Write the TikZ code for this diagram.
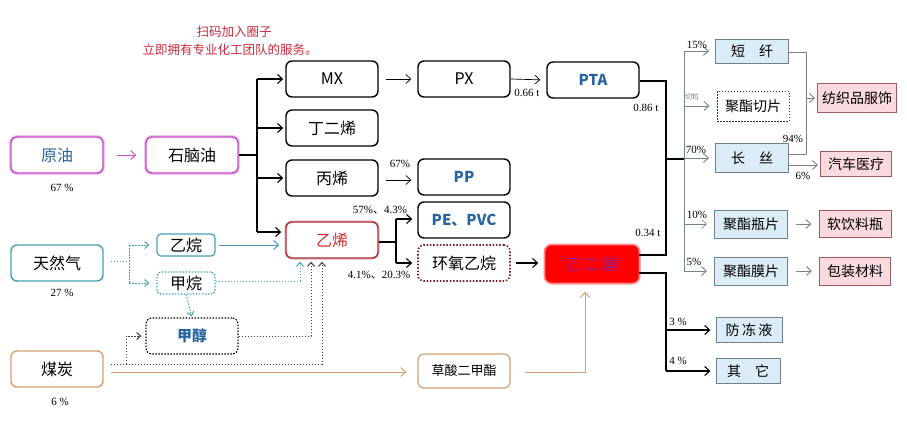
\documentclass[tikz,border=0pt]{standalone}
\usepackage{fontspec}
\setmainfont{Liberation Serif}
\newfontfamily\cjk{Noto Sans CJK SC}
\usetikzlibrary{arrows.meta}
\definecolor{mag}{RGB}{200,70,200}
\definecolor{teal2}{RGB}{70,160,180}
\definecolor{tan2}{RGB}{215,160,110}
\definecolor{redb}{RGB}{170,40,50}
\definecolor{redt}{RGB}{205,45,45}
\definecolor{blt}{RGB}{40,100,160}
\definecolor{lblue}{RGB}{218,236,246}
\definecolor{gbord}{RGB}{110,130,140}
\definecolor{pinkf}{RGB}{250,218,222}
\definecolor{pinkb}{RGB}{160,90,100}
\definecolor{gline}{RGB}{120,130,135}
\definecolor{hand}{RGB}{200,45,65}
\definecolor{egtxt}{RGB}{120,40,190}
\begin{document}
\begin{tikzpicture}[x=1pt,y=-1pt,
  box/.style={draw, rounded corners=6pt, line width=1.4pt, minimum width=92pt, minimum height=36pt, inner sep=0pt, fill=white, font=\cjk\fontsize{16}{16}\selectfont},
  sbox/.style={box, minimum width=58pt, minimum height=22pt, rounded corners=4pt, line width=1.2pt},
  rbox/.style={draw=gbord, fill=lblue, line width=1pt, minimum width=73pt, minimum height=27pt, inner sep=0pt, font=\cjk\fontsize{14}{14}\selectfont},
  pbox/.style={draw=pinkb, fill=pinkf, line width=1pt, minimum width=72pt, minimum height=27pt, inner sep=0pt, font=\cjk\fontsize{14}{14}\selectfont},
  ln/.style={line width=1.1pt},
  arr/.style={ln, -{Straight Barb[length=5pt,width=9pt]}},
  tarr/.style={line width=0.7pt, -{Straight Barb[length=5pt,width=9pt]}},
  gl/.style={draw=gline, line width=0.9pt},
  garr/.style={gl, -{Straight Barb[length=5pt,width=9pt]}},
  dots/.style={line width=1pt, dash pattern=on 1.5pt off 1.5pt},
  darr/.style={dots, -{Straight Barb[length=4pt,width=7pt]}},
  pct/.style={font=\fontsize{11}{11}\selectfont, inner sep=0pt}
]
\useasboundingbox[fill=white] (0,0) rectangle (907,421);

% handwritten note
\node[text=hand, font=\cjk\fontsize{12.5}{12.5}\selectfont, inner sep=0pt] (n1) at (234,32) {扫码加入圈子};
\node[text=hand, font=\cjk\fontsize{12.5}{12.5}\selectfont, inner sep=0pt] (n2) at (230,50) {立即拥有专业化工团队的服务。};

% sources
\node[box, draw=mag, preaction={draw=mag!30, line width=4pt}, text=blt] (yy) at (57,155) {原油};
\node[pct] (lyy) at (62,188) {67 \%};
\node[box, draw=mag, preaction={draw=mag!30, line width=4pt}] (sny) at (192,155) {石脑油};
\node[box, draw=teal2] (trq) at (57,263) {天然气};
\node[pct] (ltrq) at (62,293) {27 \%};
\node[box, draw=tan2] (mt) at (57,369) {煤炭};
\node[pct] (lmt) at (60,402) {6 \%};

% middle column
\node[box] (mx) at (332,79) {MX};
\node[box] (bed) at (332,128) {丁二烯};
\node[box] (bx) at (332,178) {丙烯};
\node[box, draw=redb, preaction={draw=redb!25, line width=3.5pt}, text=redt] (yx) at (332,240) {乙烯};
\node[box] (px) at (464,79) {PX};
\node[box, text=blt, font=\cjk\bfseries\fontsize{15}{15}\selectfont] (pp) at (464,177) {PP};
\node[box, text=blt, font=\cjk\bfseries\fontsize{15}{15}\selectfont] (pe) at (464,220) {PE、PVC};
\node[box, draw=redb!70!black, dash pattern=on 1.5pt off 1.8pt, line width=1.6pt] (hy) at (464,263) {环氧乙烷};
\node[box, text=blt, font=\cjk\bfseries\fontsize{15}{15}\selectfont] (pta) at (593,80) {PTA};
\node[box, draw=red, fill=red, preaction={draw=red!45, line width=5pt}, text=egtxt!75!red] (eg) at (592,264) {乙\,二\,醇};
\node[box, draw=tan2, line width=1.2pt, minimum height=34pt, font=\cjk\fontsize{13}{13}\selectfont] (cs) at (464,371) {草酸二甲酯};

\node[sbox, draw=teal2] (yw) at (186,245) {乙烷};
\node[sbox, draw=teal2, dots, line width=1.4pt] (jw) at (186,283) {甲烷};
\node[box, dots, line width=1.2pt, text=blt, font=\cjk\bfseries\fontsize{15}{15}\selectfont] (jc) at (192,336) {甲醇};

% right column
\node[rbox, minimum height=24pt] (dx) at (752,51) {短\hspace{1em}纤};
\node[rbox, draw=black!80, fill=white, dash pattern=on 1.5pt off 1.5pt, minimum height=30pt, minimum width=72pt] (qp) at (753,106) {聚酯切片};
\node[rbox, minimum height=29pt] (cs2) at (752,158) {长\hspace{1em}丝};
\node[rbox, minimum height=28pt] (pp2) at (751,224) {聚酯瓶片};
\node[rbox, minimum height=28pt] (mp) at (751,271) {聚酯膜片};
\node[rbox, minimum width=66pt, minimum height=25pt] (fdy) at (749,330) {防\,冻\,液};
\node[rbox, minimum width=64pt, minimum height=25pt] (qt) at (748,371) {其\hspace{1em}它};
\node[pbox, minimum width=79pt, minimum height=29pt] (fz) at (857,98) {纺织品服饰};
\node[pbox, minimum width=71pt, minimum height=25pt] (qc) at (856,164) {汽车医疗};
\node[pbox] (yl) at (855,224) {软饮料瓶};
\node[pbox, minimum width=71pt, minimum height=28pt] (bz) at (855,271) {包装材料};

% crude oil
\draw[arr, draw=mag, line width=0.9pt, shorten <=13pt, shorten >=9pt] (yy.east) -- (sny.west);
% naphtha tree
\draw[ln] (sny.east) -- (257,155);
\draw[ln] (257,79) -- (257,232);
\draw[arr, shorten >=2pt] (257,79) -- (mx.west);
\draw[arr, shorten >=2pt] (257,128) -- (bed.west);
\draw[arr, shorten >=2pt] (257,178) -- (bx.west);
\draw[arr, shorten >=4pt] (257,232) -- (yx.west |- 0,232);
% MX, PX, PTA
\draw[tarr, shorten <=7pt, shorten >=6pt] (mx.east) -- (px.west);
\draw[tarr, shorten >=6pt] (px.east) -- (pta.west);
\node[pct] (l066) at (527,93) {0.66 t};
% propylene
\draw[tarr, shorten <=7pt, shorten >=6pt] (bx.east |- 0,180) -- (pp.west |- 0,180);
\node[pct] (l67) at (400,164) {67\%};
% ethylene branch
\draw[ln] (yx.east |- 0,242) -- (396,242);
\draw[ln] (396,219) -- (396,263);
\draw[arr, shorten >=5pt] (396,219) -- (pe.west |- 0,219);
\draw[arr, shorten >=5pt] (396,263) -- (hy.west);
\node[pct] (l57) at (380,210) {57\%{\cjk 、}4.3\%};
\node[pct] (l41) at (379,275) {4.1\%{\cjk 、}20.3\%};
\draw[arr, shorten <=5pt, shorten >=7pt] (hy.east) -- (eg.west |- hy.east);
% natural gas
\draw[draw=teal2, dots] (trq.east |- 0,261) ++(7,0) -- (129,261);
\draw[draw=teal2, dots] (129,245) -- (129,283);
\draw[draw=teal2, darr, shorten >=7pt] (129,245) -- (yw.west);
\draw[draw=teal2, darr, shorten >=7pt] (129,283) -- (jw.west);
\draw[draw=teal2, arr, line width=1pt, shorten <=3pt, shorten >=6pt] (yw.east) -- (yx.west |- yw.east);
\draw[draw=teal2, darr, shorten >=1pt] (jw.south) -- (jc.north);
\draw[draw=teal2, darr, shorten >=3pt] (jw.east |- 0,281) -- (300,281) -- (yx.south -| 300,281);
% methanol and coal
\draw[darr, draw=black!75, shorten >=3pt] (jc.east) -- (311,336) -- (yx.south -| 311,336);
\draw[darr, draw=black!75, shorten >=3pt] (mt.east |- 0,364) ++(7,0) -- (322,364) -- (yx.south -| 322,364);
\draw[darr, draw=black!75, shorten >=4pt] (126,364) -- (126,336) -- (jc.west);
\draw[draw=tan2, line width=1pt, -{Straight Barb[length=5pt,width=9pt]}, shorten >=11pt] (mt.east |- 0,372) ++(7,0) -- (cs.west |- 0,372);
\draw[draw=tan2, line width=1pt, -{Straight Barb[length=5pt,width=9pt]}, shorten >=9pt] (cs.east |- 0,372) ++(14,0) -- (585,372) -- (eg.south -| 585,372);
% PTA and EG outputs
\draw[ln] (pta.east |- 0,81) -- (666,81) -- (666,255) -- (eg.east |- 0,255);
\node[pct] (l086) at (646,108) {0.86 t};
\node[pct] (l034) at (648,233) {0.34 t};
\draw[ln] (666,159) -- (684,159);
\draw[ln] (eg.east |- 0,273) -- (666,273) -- (666,371);
\draw[arr, shorten >=5pt] (666,330) -- (fdy.west);
\draw[arr, shorten >=5pt] (666,371) -- (qt.west);
\node[pct] (l3) at (678,322) {3 \%};
\node[pct] (l4) at (678,361) {4 \%};
% polyester bus
\draw[gl] (684,51) -- (684,271);
\draw[garr, shorten >=6pt] (684,51) -- (dx.west);
\draw[garr, shorten >=7pt] (684,106) -- (qp.west);
\draw[garr, shorten >=6pt] (684,158) -- (cs2.west);
\draw[garr, line width=0.6pt, shorten >=7pt] (684,224) -- (pp2.west);
\draw[garr, shorten >=7pt] (684,271) -- (mp.west);
\node[pct] (l15) at (697,45) {15\%};
\node[pct, text=gline, font=\cjk\fontsize{7}{7}\selectfont] (lql) at (692,97) {切粒};
\node[pct] (l70) at (696,150) {70\%};
\node[pct] (l10) at (697,215) {10\%};
\node[pct] (l5) at (694,262) {5\%};
% fibres
\draw[gl] (dx.east |- 0,52) -- (806,52) -- (806,154) -- (cs2.east |- 0,154);
\draw[garr, shorten >=2pt] (806,98) -- (fz.west);
\draw[garr, shorten >=2pt] (cs2.east |- 0,165) -- (qc.west |- 0,165);
\node[pct] (l94) at (793,139) {94\%};
\node[pct] (l6) at (803,176) {6\%};
\draw[garr, shorten <=8pt, shorten >=7pt] (pp2.east) -- (yl.west);
\draw[garr, shorten <=8pt, shorten >=7pt] (mp.east) -- (bz.west);
\end{tikzpicture}
\end{document}
